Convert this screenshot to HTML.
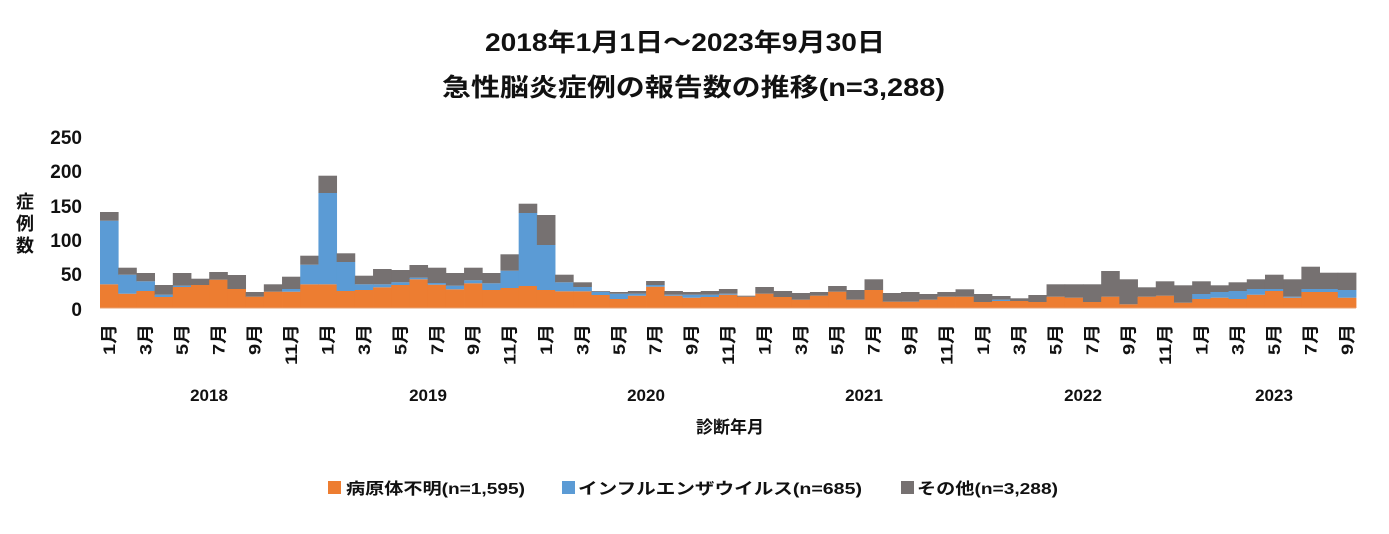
<!DOCTYPE html>
<html><head><meta charset="utf-8"><style>
body{margin:0;background:#fff;}
svg text{font-family:"Liberation Sans","Noto Sans CJK JP",sans-serif;font-weight:bold;fill:#111;}
</style></head><body>
<svg width="1389" height="529" xmlns="http://www.w3.org/2000/svg">
<text x="485" y="51" font-size="25" textLength="400" lengthAdjust="spacingAndGlyphs">2018年1月1日～2023年9月30日</text>
<text x="442" y="96" font-size="25" textLength="503" lengthAdjust="spacingAndGlyphs">急性脳炎症例の報告数の推移(n=3,288)</text>
<g font-size="19" text-anchor="end">
<text x="82" y="316">0</text><text x="82" y="281">50</text><text x="82" y="247">100</text>
<text x="82" y="213">150</text><text x="82" y="178">200</text><text x="82" y="144">250</text>
</g>
<g font-size="18" text-anchor="middle"><text x="25" y="208">症</text><text x="25" y="230">例</text><text x="25" y="252">数</text></g>
<g id="bars"></g>
<line x1="100" y1="308" x2="1356" y2="308" stroke="#e8a070" stroke-width="1"/>
<g id="months" font-size="17"></g>
<g font-size="17" text-anchor="middle">
<text x="209" y="401">2018</text><text x="428" y="401">2019</text><text x="646" y="401">2020</text>
<text x="864" y="401">2021</text><text x="1083" y="401">2022</text><text x="1274" y="401">2023</text>
</g>
<text x="730" y="433" font-size="17" text-anchor="middle">診断年月</text>
<g font-size="16">
<rect x="328" y="481" width="13" height="13" fill="#ed7d31"/><text x="346" y="494" textLength="179" lengthAdjust="spacingAndGlyphs">病原体不明(n=1,595)</text>
<rect x="562" y="481" width="13" height="13" fill="#5b9bd5"/><text x="578" y="494" textLength="284" lengthAdjust="spacingAndGlyphs">インフルエンザウイルス(n=685)</text>
<rect x="901" y="481" width="13" height="13" fill="#767171"/><text x="917" y="494" textLength="141" lengthAdjust="spacingAndGlyphs">その他(n=3,288)</text>
</g>
</svg>
<script>
const d=[[284.3,220.7,212],[293.7,274.7,267.7],[291,281.3,273],[297,294.7,285],[287,285.7,273],[285,285,278.7],[279.7,279.7,272],[289,289,275],[296.7,296.7,292],[291.7,291.7,284.3],[291.7,289,276.7],[284.3,264.7,255.7],[284.3,193,175.7],[291,262,253.3],[290,284.3,275.7],[287.3,284.3,269],[285,282.3,270],[279.3,277.7,265],[284.7,283,267.7],[289.3,285.7,273],[283.3,280.3,267.7],[290,283.3,273],[288,270.7,254.3],[286,213,203.7],[290,245,215],[291.3,282.3,274.7],[291.3,287,282.3],[295,291.7,291],[299,293.7,292],[295.7,293.7,291],[286.7,285,281],[295.7,294.7,291],[297.7,294.7,292],[297,294.7,291],[294.7,293.7,289],[296.7,296.7,295.7],[293.7,293.7,287],[297,297,291],[299.7,299.7,293],[295.7,295.7,292],[291.7,291.7,286],[299.7,299.7,290],[290,290,279.3],[301.7,301.7,293],[301.7,301.7,292],[299.7,299.7,294],[296.7,296.7,292],[296.7,296.7,289.3],[302,302,294],[301,299.7,296],[301,301,298.3],[302,302,295],[296.7,296.7,284.3],[297.7,297.7,284.3],[302,302,284.3],[296.7,296.7,271],[304.3,304.3,279.3],[296.7,296.7,287.3],[295.7,295.7,281.3],[302.7,302.7,285.3],[299,294,281.3],[297.7,292,285.3],[299,291,282.3],[294.7,289,279.3],[291,289,274.7],[297.7,296.7,279.3],[292,289,266.7],[292,289,272.7],[297.7,290,272.7]];
const w=(1356-100)/69,B=308,ns="http://www.w3.org/2000/svg";
const g=document.getElementById('bars'),m=document.getElementById('months');
function r(x,y1,y2,c){if(y2-y1<=0)return;const e=document.createElementNS(ns,'rect');e.setAttribute('x',x.toFixed(2));e.setAttribute('width',(w+0.4).toFixed(2));e.setAttribute('y',y1);e.setAttribute('height',(y2-y1).toFixed(2));e.setAttribute('fill',c);g.appendChild(e);}
d.forEach((v,i)=>{const x=100+i*w;r(x,v[0],B,'#ed7d31');r(x,v[1],v[0],'#5b9bd5');r(x,v[2],v[1],'#767171');
const mo=i%12+1;if(mo%2==1){const t=document.createElementNS(ns,'text');const cx=x+w/2+6;t.setAttribute('transform','translate('+cx.toFixed(1)+',324) rotate(-90)');t.setAttribute('text-anchor','end');t.setAttribute('textLength',mo>9?'41':'31');t.setAttribute('lengthAdjust','spacingAndGlyphs');t.textContent=mo+'月';m.appendChild(t);}});
</script>
</body></html>
